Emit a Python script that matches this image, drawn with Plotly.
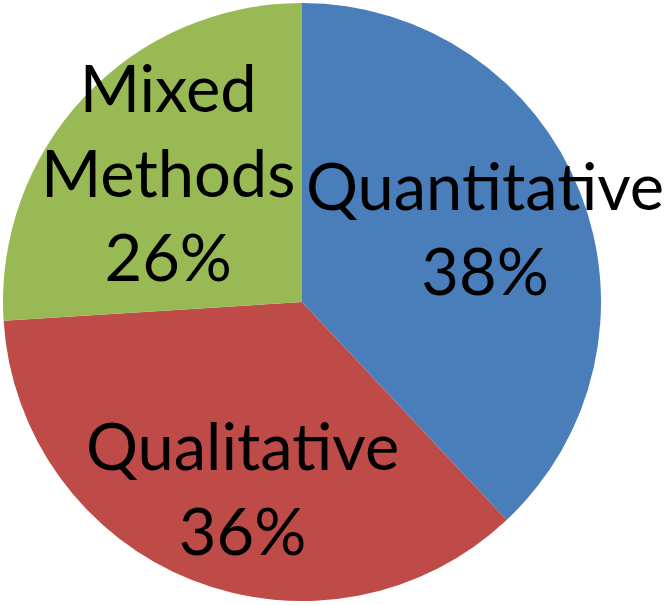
import plotly.graph_objects as go

# Data
categories = ["Quantitative", "Qualitative", "Mixed Methods"]
label_lines = ["Quantitative", "Qualitative", "Mixed<br>Methods"]
values = [38, 36, 26]
colors = ["#4A7EBB", "#BE4B48", "#98B954"]

W, H = 667, 605
total = sum(values)
pct_text = [f"{round(v / total * 100)}%" for v in values]

# label anchor positions in pixels (centre of text block)
label_pos = [(485, 227), (243, 487), (168, 171)]

fig = go.Figure(
    go.Pie(
        labels=categories,
        values=values,
        marker=dict(colors=colors, line=dict(width=0)),
        sort=False,
        direction="clockwise",
        rotation=0,
        textinfo="none",
        hoverinfo="label+percent",
        showlegend=False,
        domain=dict(x=[3 / W, 601 / W], y=[1 - 601 / H, 1 - 3 / H]),
    )
)

for lines, pct, (px, py) in zip(label_lines, pct_text, label_pos):
    fig.add_annotation(
        x=px / W, y=1 - py / H, xref="paper", yref="paper",
        text=f"{lines}<br>{pct}", showarrow=False,
        xanchor="center", yanchor="middle", align="center",
        font=dict(family="Lato", size=65, color="#000000"),
    )

fig.update_layout(
    width=W, height=H,
    margin=dict(l=0, r=0, t=0, b=0),
    paper_bgcolor="white", plot_bgcolor="white",
)

fig.write_html(
    "out.html",
    config={"displayModeBar": False},
    post_script="document.body.style.margin='0';document.body.style.overflow='hidden';",
)
